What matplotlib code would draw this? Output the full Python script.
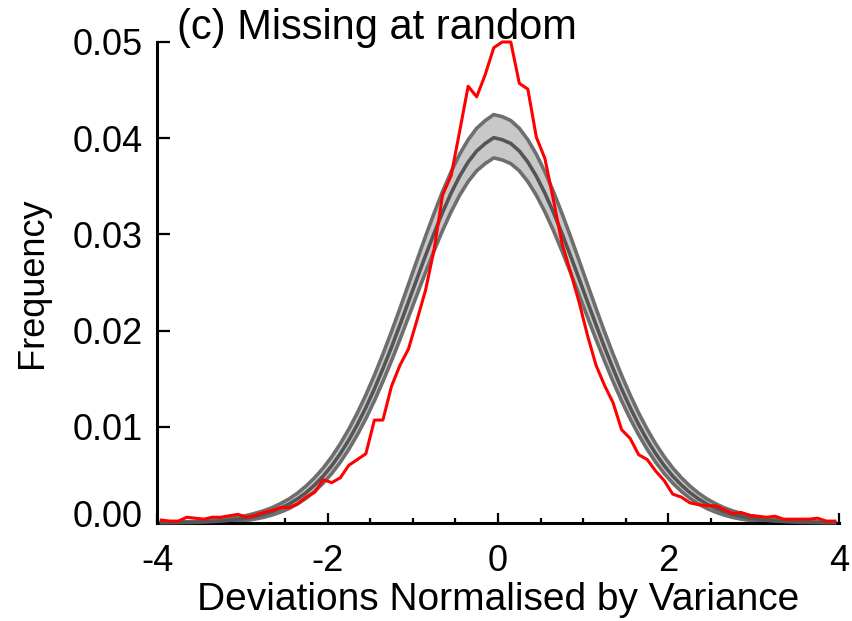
import matplotlib
matplotlib.use("Agg")
import matplotlib.pyplot as plt
import matplotlib.transforms as mtransforms
from matplotlib.ticker import MultipleLocator

plt.rcParams['font.family'] = ['Liberation Sans', 'DejaVu Sans']

# Bin centres of the normalised-deviation histogram
bin_centres = [round(-3.95 + 0.1 * k, 2) for k in range(80)]

# Observed frequencies (red)
observed = [
    0.0003, 0.0002, 0.0002, 0.0006, 0.0005, 0.0004, 0.0006, 0.0006, 0.00075, 0.0009,
    0.0006, 0.0008, 0.0011, 0.0013, 0.0016, 0.0016, 0.0020, 0.0027, 0.0032, 0.0045,
    0.0042, 0.0047, 0.0060, 0.0066, 0.0072, 0.0107, 0.0107, 0.0142, 0.0164, 0.0181,
    0.0211, 0.0242, 0.0284, 0.0341, 0.0361, 0.0407, 0.0454, 0.0443, 0.0466, 0.0494,
    0.0500, 0.0500, 0.0457, 0.0451, 0.0401, 0.0379, 0.0336, 0.0291, 0.0261, 0.0230,
    0.0195, 0.0164, 0.0143, 0.0125, 0.0097, 0.0088, 0.0071, 0.0066, 0.0054, 0.0044,
    0.0030, 0.0027, 0.0021, 0.0019, 0.0018, 0.0018, 0.0014, 0.0010, 0.0011, 0.0008,
    0.0007, 0.0006, 0.0007, 0.0004, 0.0004, 0.0004, 0.0004, 0.0005, 0.0002, 0.0002,
]

# Reference distribution: ensemble mean (dark grey) and its spread (grey band)
ref_mean = [
    0.00002, 0.00002, 0.00004, 0.00005, 0.00007, 0.00010, 0.00015, 0.00020, 0.00028, 0.00038,
    0.00051, 0.00069, 0.00091, 0.00119, 0.00155, 0.00198, 0.00252, 0.00317, 0.00396, 0.00488,
    0.00596, 0.00721, 0.00863, 0.01023, 0.01200, 0.01394, 0.01604, 0.01826, 0.02059, 0.02299,
    0.02541, 0.02780, 0.03011, 0.03230, 0.03429, 0.03605, 0.03752, 0.03867, 0.03945, 0.04005,
    0.03984, 0.03945, 0.03867, 0.03752, 0.03605, 0.03429, 0.03230, 0.03011, 0.02780, 0.02541,
    0.02299, 0.02059, 0.01826, 0.01604, 0.01394, 0.01200, 0.01023, 0.00863, 0.00721, 0.00596,
    0.00488, 0.00396, 0.00317, 0.00252, 0.00198, 0.00155, 0.00119, 0.00091, 0.00069, 0.00051,
    0.00038, 0.00028, 0.00020, 0.00015, 0.00010, 0.00007, 0.00005, 0.00004, 0.00002, 0.00002,
]
ref_upper = [
    0.00007, 0.00007, 0.00012, 0.00013, 0.00017, 0.00022, 0.00030, 0.00037, 0.00048, 0.00061,
    0.00078, 0.00101, 0.00127, 0.00160, 0.00202, 0.00251, 0.00312, 0.00385, 0.00472, 0.00572,
    0.00689, 0.00823, 0.00975, 0.01144, 0.01332, 0.01536, 0.01756, 0.01988, 0.02231, 0.02481,
    0.02732, 0.02980, 0.03219, 0.03446, 0.03651, 0.03833, 0.03984, 0.04103, 0.04183, 0.04245,
    0.04224, 0.04183, 0.04103, 0.03984, 0.03833, 0.03651, 0.03446, 0.03219, 0.02980, 0.02732,
    0.02481, 0.02231, 0.01988, 0.01756, 0.01536, 0.01332, 0.01144, 0.00975, 0.00823, 0.00689,
    0.00572, 0.00472, 0.00385, 0.00312, 0.00251, 0.00202, 0.00160, 0.00127, 0.00101, 0.00078,
    0.00061, 0.00048, 0.00037, 0.00030, 0.00022, 0.00017, 0.00013, 0.00012, 0.00007, 0.00007,
]
ref_lower = [
    0.00000, 0.00000, 0.00000, 0.00000, 0.00000, 0.00000, 0.00002, 0.00005, 0.00010, 0.00018,
    0.00027, 0.00041, 0.00059, 0.00083, 0.00114, 0.00151, 0.00199, 0.00258, 0.00330, 0.00415,
    0.00515, 0.00632, 0.00766, 0.00917, 0.01085, 0.01270, 0.01471, 0.01684, 0.01908, 0.02140,
    0.02374, 0.02605, 0.02829, 0.03041, 0.03235, 0.03406, 0.03549, 0.03661, 0.03736, 0.03795,
    0.03774, 0.03736, 0.03661, 0.03549, 0.03406, 0.03235, 0.03041, 0.02829, 0.02605, 0.02374,
    0.02140, 0.01908, 0.01684, 0.01471, 0.01270, 0.01085, 0.00917, 0.00766, 0.00632, 0.00515,
    0.00415, 0.00330, 0.00258, 0.00199, 0.00151, 0.00114, 0.00083, 0.00059, 0.00041, 0.00027,
    0.00018, 0.00010, 0.00005, 0.00002, 0.00000, 0.00000, 0.00000, 0.00000, 0.00000, 0.00000,
]

x_ticks = [-4, -2, 0, 2, 4]
x_tick_labels = ['-4', '-2', '0', '2', '4']
y_ticks = [0.00, 0.01, 0.02, 0.03, 0.04, 0.05]
y_tick_labels = ['0.00', '0.01', '0.02', '0.03', '0.04', '0.05']

fig = plt.figure(figsize=(8.52, 6.21), dpi=100)
ax = fig.add_axes([0.1843, 0.1578, 0.8004, 0.7746])

ax.fill_between(bin_centres, ref_lower, ref_upper, color='#c8c8c8', lw=0, zorder=1)
ax.plot(bin_centres, ref_upper, color='#6e6e6e', lw=2.6, zorder=2, clip_on=False)
ax.plot(bin_centres, ref_lower, color='#6e6e6e', lw=2.6, zorder=2, clip_on=False)
ax.plot(bin_centres, ref_mean, color='#555555', lw=2.6, zorder=3, clip_on=False)
ax.plot(bin_centres, observed, color='#ff0000', lw=2.2, zorder=4, clip_on=False)

ax.set_xlim(-4, 4)
ax.set_ylim(0, 0.05)

for side in ('top', 'right'):
    ax.spines[side].set_visible(False)
for side in ('left', 'bottom'):
    ax.spines[side].set_linewidth(2.2)

ax.set_xticks(x_ticks)
ax.set_xticklabels(x_tick_labels)
ax.xaxis.set_minor_locator(MultipleLocator(0.5))
ax.set_yticks(y_ticks)
ax.set_yticklabels(y_tick_labels)

ax.tick_params(axis='x', which='major', direction='in', length=7, width=1.6,
               labelsize=26, pad=15)
ax.tick_params(axis='x', which='minor', direction='in', length=3.5, width=1.6)
ax.tick_params(axis='y', which='major', direction='in', length=9.5, width=1.6,
               labelsize=26, pad=10.5)

# lift the bottom y label clear of the x axis
lbl0 = ax.get_yticklabels()[0]
lbl0.set_transform(lbl0.get_transform() +
                   mtransforms.ScaledTranslation(0, 10 / 100, fig.dpi_scale_trans))

ax.set_xlabel('Deviations Normalised by Variance', fontsize=28, labelpad=2)
ax.set_ylabel('Frequency', fontsize=26, labelpad=16)

ax.text(-3.77, 0.0503, '(c) Missing at random', fontsize=30, ha='left', va='baseline')

fig.savefig('out.png', dpi=100)
